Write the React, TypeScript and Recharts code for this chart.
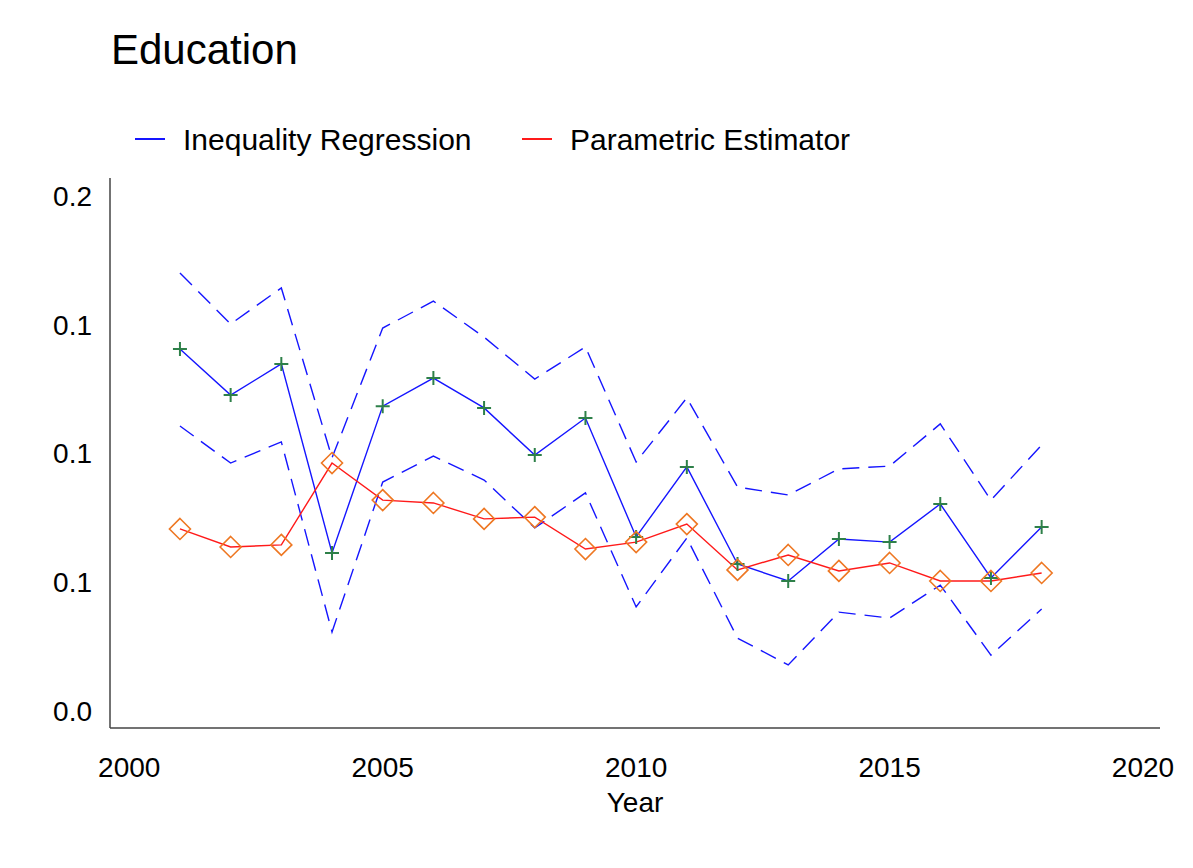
import React from 'react';
import { LineChart, Line, XAxis, YAxis } from 'recharts';

const years = [2001, 2002, 2003, 2004, 2005, 2006, 2007, 2008, 2009, 2010, 2011, 2012, 2013, 2014, 2015, 2016, 2017, 2018];

const ineqEstimate = [0.1406, 0.1227, 0.1348, 0.0614, 0.1184, 0.1293, 0.1177, 0.0994, 0.1138, 0.0676, 0.0948, 0.0571, 0.0505, 0.0668, 0.0656, 0.0804, 0.0517, 0.0715];
const ineqUpper = [0.1701, 0.1503, 0.1643, 0.0983, 0.1487, 0.1592, 0.1452, 0.1289, 0.1414, 0.0967, 0.1216, 0.087, 0.0839, 0.094, 0.0951, 0.1115, 0.0819, 0.1033];
const ineqLower = [0.1107, 0.0963, 0.1045, 0.0307, 0.0889, 0.099, 0.0897, 0.0711, 0.0847, 0.0404, 0.0672, 0.0283, 0.0179, 0.0384, 0.0361, 0.0489, 0.0217, 0.0396];
const paramEstimate = [0.0707, 0.0637, 0.0645, 0.0963, 0.0819, 0.0808, 0.0746, 0.0753, 0.0629, 0.0656, 0.0726, 0.0548, 0.0606, 0.0544, 0.0575, 0.0505, 0.0505, 0.0536];

const xTicks = [2000, 2005, 2010, 2015, 2020];
const yTicks = [0, 0.05, 0.1, 0.15, 0.2];

const BLUE = '#1515ff';
const RED = '#ff1a1a';
const GREEN = '#2e8049';
const ORANGE = '#ee7722';
const FONT = 'Liberation Sans, Arial, sans-serif';

const data = years.map((year, i) => ({
  year,
  est: ineqEstimate[i],
  upper: ineqUpper[i],
  lower: ineqLower[i],
  param: paramEstimate[i],
}));

// green plus marker on the regression line
const renderPlus = (props: any) => {
  const { cx, cy, index } = props;
  const s = 7;
  return (
    <path
      key={`plus-${index}`}
      d={`M${cx - s},${cy}H${cx + s}M${cx},${cy - s}V${cy + s}`}
      stroke={GREEN}
      strokeWidth={2}
      fill="none"
    />
  );
};

// hollow orange diamond on the parametric line
const renderDiamond = (props: any) => {
  const { cx, cy, index } = props;
  const s = 10.5;
  return (
    <path
      key={`dia-${index}`}
      d={`M${cx},${cy - s}L${cx + s},${cy}L${cx},${cy + s}L${cx - s},${cy}Z`}
      stroke={ORANGE}
      strokeWidth={1.6}
      fill="none"
    />
  );
};

const legendText = { position: 'absolute' as const, top: 117, fontSize: 30, color: '#000', lineHeight: 1 };
const legendLine = { position: 'absolute' as const, top: 130, width: 30, height: 2 };

export default function App() {
  return (
    <div style={{ position: 'relative', width: 1177, height: 852, background: '#fff', fontFamily: FONT }}>
      <div style={{ position: 'absolute', left: 103, top: 21, fontSize: 42, color: '#000', lineHeight: 1 }}>
        Education
      </div>

      <div style={{ ...legendLine, left: 127, background: BLUE }} />
      <span style={{ ...legendText, left: 175 }}>Inequality Regression</span>
      <div style={{ ...legendLine, left: 514, background: RED }} />
      <span style={{ ...legendText, left: 562 }}>Parametric Estimator</span>

      <LineChart
        width={1177}
        height={852}
        data={data}
        margin={{ top: 170, right: 25, bottom: 72, left: 0 }}
      >
        <XAxis
          dataKey="year"
          type="number"
          domain={[1999.62, 2020.335]}
          ticks={xTicks}
          allowDataOverflow
          tickLine={false}
          tickSize={0}
          tickMargin={29}
          height={60}
          axisLine={{ stroke: '#444', strokeWidth: 1.5 }}
          tick={{ fill: '#000', fontSize: 28, fontFamily: FONT }}
        />
        <YAxis
          type="number"
          domain={[-0.0066, 0.207]}
          ticks={yTicks}
          allowDataOverflow
          width={102}
          tickLine={false}
          tickSize={0}
          tickMargin={18}
          tickFormatter={(v: number) => v.toFixed(1)}
          axisLine={{ stroke: '#444', strokeWidth: 1.5 }}
          tick={{ fill: '#000', fontSize: 28, fontFamily: FONT }}
        />
        <Line dataKey="upper" stroke={BLUE} strokeWidth={1.4} strokeDasharray="17 9" dot={false} isAnimationActive={false} />
        <Line dataKey="lower" stroke={BLUE} strokeWidth={1.4} strokeDasharray="17 9" dot={false} isAnimationActive={false} />
        <Line dataKey="est" stroke={BLUE} strokeWidth={1.4} dot={renderPlus} activeDot={false} isAnimationActive={false} />
        <Line dataKey="param" stroke={RED} strokeWidth={1.4} dot={renderDiamond} activeDot={false} isAnimationActive={false} />
      </LineChart>

      <div style={{ position: 'absolute', left: 0, width: 1177, top: 781, textAlign: 'center', paddingLeft: 102 - 25, boxSizing: 'border-box', fontSize: 28, color: '#000', lineHeight: 1 }}>
        Year
      </div>
    </div>
  );
}
